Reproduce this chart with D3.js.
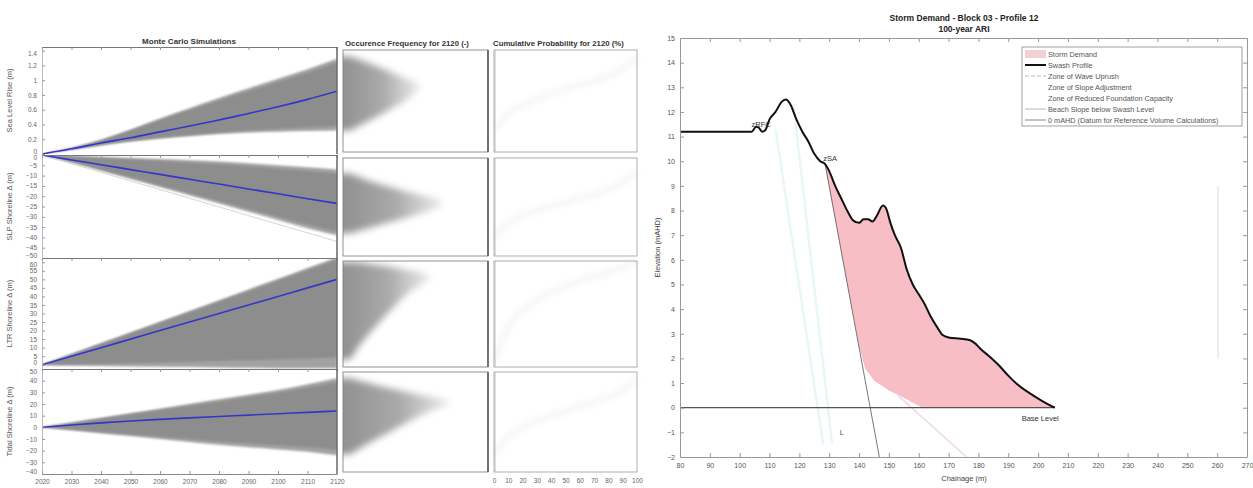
<!DOCTYPE html>
<html>
<head>
<meta charset="utf-8">
<script src="https://cdn.jsdelivr.net/npm/d3@7"></script>
<style>
body { margin: 0; background: #fff; }
text { font-family: Arial, "Liberation Sans", sans-serif; }
</style>
</head>
<body>
<script>
/*
    Values. Left figure: Monte Carlo fans
    (upper / lower envelope and median) for each decade, plus the
    2120 occurrence and cumulative curves. Right figure: beach profile
    and eroded profile for the storm demand.
*/
var W = 1253;
var H = 488;

var years = [2020, 2030, 2040, 2050, 2060, 2070, 2080, 2090, 2100, 2110, 2120];
var yearTicks = [2020, 2030, 2040, 2050, 2060, 2070, 2080, 2090, 2100, 2110, 2120];
var cumTicks = [0, 10, 20, 30, 40, 50, 60, 70, 80, 90, 100];

var slrMedian = [0, 0.07, 0.15, 0.22, 0.30, 0.38, 0.46, 0.55, 0.64, 0.74, 0.85];
var slrUpper  = [0, 0.08, 0.19, 0.33, 0.48, 0.62, 0.76, 0.89, 1.02, 1.15, 1.29];
var slrLower  = [0, 0.06, 0.12, 0.17, 0.21, 0.24, 0.27, 0.29, 0.30, 0.31, 0.32];

var slpMedian = [0, -2.4, -4.7, -7.1, -9.4, -11.8, -14.1, -16.5, -18.8, -21.2, -23.5];
var slpUpper  = [0, -0.5, -1.0, -1.5, -2.0, -2.6, -3.2, -4.0, -5.0, -6.0, -7.0];
var slpLower  = [0, -3.5, -7.5, -11.5, -15.5, -19.5, -23.5, -27.5, -31.5, -35.5, -39.0];
var slpMin    = [0, -4.2, -8.4, -12.6, -16.8, -21.0, -25.2, -29.4, -33.6, -37.8, -42.0];

var ltrMedian = [0, 5.0, 10.0, 15.0, 20.0, 25.0, 30.0, 35.0, 40.0, 45.0, 50.0];
var ltrUpper  = [0, 6.3, 12.6, 18.9, 25.2, 31.5, 37.8, 44.1, 50.4, 56.7, 63.0];
var ltrLower  = [0, -0.5, -0.8, -1.0, -1.2, -1.4, -1.6, -1.8, -2.0, -2.0, -2.0];

var tidMedian = [0, 2.0, 3.8, 5.4, 6.8, 8.1, 9.3, 10.5, 11.7, 12.8, 14.0];
var tidUpper  = [0, 4, 8, 12, 16, 20, 24, 28, 32, 37, 42];
var tidLower  = [0, -2.5, -5, -7.5, -10, -12.5, -15, -17, -19, -21, -24];

var slrTicks = [0, 0.2, 0.4, 0.6, 0.8, 1, 1.2, 1.4];
var slpTicks = [0, -5, -10, -15, -20, -25, -30, -35, -40, -45, -50];
var ltrTicks = [0, 5, 10, 15, 20, 25, 30, 35, 40, 45, 50, 55, 60];
var tidTicks = [-40, -30, -20, -10, 0, 10, 20, 30, 40, 50];

// occurrence frequency in 2120 (value, relative frequency)
var slrOccValue = [0.32, 0.45, 0.6, 0.75, 0.93, 1.05, 1.2, 1.32];
var slrOccFreq  = [0.05, 0.18, 0.32, 0.45, 0.53, 0.4, 0.22, 0.05];
var slpOccValue = [-38, -33, -28, -23, -18, -13, -9];
var slpOccFreq  = [0.05, 0.3, 0.55, 0.69, 0.45, 0.2, 0.05];
var ltrOccValue = [3, 12, 22, 32, 42, 52, 57, 60];
var ltrOccFreq  = [0.05, 0.12, 0.22, 0.33, 0.45, 0.6, 0.35, 0.1];
var tidOccValue = [-23, -12, -2, 8, 15, 21, 30, 37, 42];
var tidOccFreq  = [0.05, 0.2, 0.35, 0.5, 0.62, 0.74, 0.45, 0.2, 0.05];

// cumulative probability in 2120 (percent, value)
var cumPct   = [0, 10, 25, 50, 75, 90, 100];
var slrCum   = [0.32, 0.55, 0.7, 0.88, 1.02, 1.15, 1.32];
var slpCum   = [-40, -33, -28, -23, -18, -13, -8];
var ltrCum   = [2, 22, 35, 46, 53, 57, 61];
var tidCum   = [-24, -8, 3, 14, 24, 32, 42];

var rowLabels = ["Sea Level Rise (m)", "SLP Shoreline \u0394 (m)", "LTR Shoreline \u0394 (m)", "Tidal Shoreline \u0394 (m)"];

// right figure: beach profile
var profChainage = [80, 104, 105.5, 106.5, 107.5, 108.5, 110, 112, 114, 115.5, 117, 119, 121, 123, 125, 127, 128.5,
    130, 132, 134, 136, 138, 140, 141.5, 143, 144.5, 146, 148, 149, 150.5, 152, 154, 156, 158, 160, 162, 164, 166,
    168, 170, 174, 177, 179, 181, 184, 187, 190, 193, 197, 201, 205.6];
var profElevation = [11.2, 11.2, 11.4, 11.35, 11.2, 11.25, 11.7, 12.0, 12.4, 12.5, 12.3, 11.7, 11.2, 10.8, 10.3, 10.0, 9.9,
    9.6, 9.0, 8.5, 8.0, 7.6, 7.5, 7.65, 7.65, 7.55, 7.8, 8.2, 8.1, 7.5, 7.0, 6.5, 5.6, 5.0, 4.6, 4.2, 3.7, 3.3,
    2.95, 2.85, 2.8, 2.75, 2.6, 2.35, 2.05, 1.7, 1.3, 0.95, 0.6, 0.3, 0];
var erodedChainage  = [128.5, 133, 137.5, 140, 142, 145, 150, 155, 158, 161, 205.6];
var erodedElevation = [9.9, 7.0, 4.1, 2.5, 1.6, 1.1, 0.7, 0.4, 0.2, 0.02, 0];

var slopeLineChainage  = [128.6, 146.8];
var slopeLineElevation = [9.9, -2];
var belowSwashChainage  = [153, 176];
var belowSwashElevation = [0.5, -2];
var uprushChainage1 = [112, 128], uprushElevation1 = [11.3, -1.5];
var uprushChainage2 = [118, 131], uprushElevation2 = [12.3, -1.5];
var rockwallChainage = [260.3, 260.3], rockwallElevation = [9, 2];
var datumChainage = [80, 205.6], datumElevation = [0, 0];

var chainTicks = [80, 90, 100, 110, 120, 130, 140, 150, 160, 170, 180, 190, 200, 210, 220, 230, 240, 250, 260, 270];
var elevTicks = [-2, -1, 0, 1, 2, 3, 4, 5, 6, 7, 8, 9, 10, 11, 12, 13, 14, 15];

var legendLabels = ["Storm Demand", "Swash Profile", "Zone of Wave Uprush", "Zone of Slope Adjustment",
    "Zone of Reduced Foundation Capacity", "Beach Slope below Swash Level", "0 mAHD (Datum for Reference Volume Calculations)"];


var svg = d3.select("body")
    .append("svg")
    .attr("width", W)
    .attr("height", H)
    .style("background-color", "#fff");

var defs = svg.append("defs");
defs.append("filter").attr("id", "soft")
    .attr("x", "-5%").attr("y", "-5%").attr("width", "110%").attr("height", "110%")
    .append("feGaussianBlur").attr("stdDeviation", 1.1);
defs.append("filter").attr("id", "blurOcc")
    .attr("x", "-20%").attr("y", "-20%").attr("width", "140%").attr("height", "140%")
    .append("feGaussianBlur").attr("stdDeviation", 3.5);
defs.append("filter").attr("id", "blurCum")
    .attr("x", "-20%").attr("y", "-20%").attr("width", "140%").attr("height", "140%")
    .append("feGaussianBlur").attr("stdDeviation", 3);
var grad = defs.append("linearGradient").attr("id", "occFade")
    .attr("x1", 0).attr("x2", 1).attr("y1", 0).attr("y2", 0);
grad.append("stop").attr("offset", "0%").attr("stop-color", "#8e8e8e");
grad.append("stop").attr("offset", "55%").attr("stop-color", "#aaaaaa");
grad.append("stop").attr("offset", "100%").attr("stop-color", "#ececec");


/*
    LEFT FIGURE - four rows of Monte Carlo / occurrence / cumulative panels
*/
var mcX = d3.scaleLinear().domain([2020, 2120]).range([42, 337]);
var occX = d3.scaleLinear().domain([0, 1]).range([343, 488]);
var cumX = d3.scaleLinear().domain([0, 100]).range([494, 637]);

var rows = [
    {label: rowLabels[0], top: 47, bottom: 154, domain: [0, 1.45], ticks: slrTicks,
        median: slrMedian, upper: slrUpper, lower: slrLower, occV: slrOccValue, occF: slrOccFreq, cum: slrCum},
    {label: rowLabels[1], top: 155, bottom: 258, domain: [-50, 0], ticks: slpTicks,
        median: slpMedian, upper: slpUpper, lower: slpLower, occV: slpOccValue, occF: slpOccFreq, cum: slpCum, min: slpMin},
    {label: rowLabels[2], top: 258, bottom: 369, domain: [-2.5, 62.5], ticks: ltrTicks,
        median: ltrMedian, upper: ltrUpper, lower: ltrLower, occV: ltrOccValue, occF: ltrOccFreq, cum: ltrCum},
    {label: rowLabels[3], top: 369, bottom: 474, domain: [-40, 50], ticks: tidTicks,
        median: tidMedian, upper: tidUpper, lower: tidLower, occV: tidOccValue, occF: tidOccFreq, cum: tidCum}
];

rows.forEach(function(r, k){
    var y = d3.scaleLinear().domain(r.domain).range([r.bottom, r.top]);

    var clipId = "clip" + k;
    defs.append("clipPath").attr("id", clipId)
        .append("rect")
        .attr("x", mcX(2020)).attr("y", r.top)
        .attr("width", mcX(2120) - mcX(2020)).attr("height", r.bottom - r.top);

    var g = svg.append("g").attr("clip-path", "url(#" + clipId + ")");

    // fan of simulations
    var fan = d3.area()
        .x(function(d, i){ return mcX(years[i]); })
        .y0(function(d, i){ return y(r.lower[i]); })
        .y1(function(d, i){ return y(r.upper[i]); })
        .curve(d3.curveMonotoneX);

    g.append("path")
        .datum(years)
        .attr("d", fan)
        .style("fill", "#a2a2a2")
        .attr("filter", "url(#soft)");

    // darker core of the fan
    var core = d3.area()
        .x(function(d, i){ return mcX(years[i]); })
        .y0(function(d, i){ return y(r.lower[i] + (r.median[i] - r.lower[i]) * 0.12); })
        .y1(function(d, i){ return y(r.upper[i] - (r.upper[i] - r.median[i]) * 0.12); })
        .curve(d3.curveMonotoneX);

    g.append("path")
        .datum(years)
        .attr("d", core)
        .style("fill", "#8d8d8d")
        .attr("filter", "url(#soft)");

    if(r.min){
        g.append("path")
            .datum(r.min)
            .attr("d", d3.line()
                .x(function(d, i){ return mcX(years[i]); })
                .y(function(d){ return y(d); }))
            .style("fill", "none")
            .style("stroke", "#d6d6d6")
            .style("stroke-width", 1);
    }

    g.append("path")
        .datum(r.median)
        .attr("d", d3.line()
            .x(function(d, i){ return mcX(years[i]); })
            .y(function(d){ return y(d); })
            .curve(d3.curveMonotoneX))
        .style("fill", "none")
        .style("stroke", "#3535c8")
        .style("stroke-width", 1.6);

    // left axis of the MC panel; end labels nudged inward so rows do not collide
    var lo = r.ticks[0] < r.ticks[r.ticks.length - 1] ? r.ticks[0] : r.ticks[r.ticks.length - 1];
    var hi = r.ticks[0] < r.ticks[r.ticks.length - 1] ? r.ticks[r.ticks.length - 1] : r.ticks[0];
    svg.append("g")
        .attr("transform", "translate(" + mcX(2020) + ",0)")
        .call(d3.axisLeft(y).tickValues(r.ticks).tickFormat(d3.format("~g")).tickSizeInner(-3).tickSizeOuter(0).tickPadding(5))
        .call(function(a){
            a.select(".domain").style("stroke", "#bbb");
            a.selectAll(".tick line").style("stroke", "#999");
            a.selectAll("text").style("font-size", "6.5px").style("fill", "#666")
                .attr("y", function(d){
                    if(d == lo && y(d) > r.bottom - 6) return -2.5;
                    if(d == hi && y(d) < r.top + 6) return 2.5;
                    return 0;
                });
        });

    // top ticks of the MC panel
    svg.append("g")
        .attr("transform", "translate(0," + r.top + ")")
        .call(d3.axisTop(mcX).tickValues(yearTicks).tickFormat("").tickSizeInner(-3).tickSizeOuter(0))
        .call(function(a){
            a.select(".domain").style("stroke", "#777");
            a.selectAll(".tick line").style("stroke", "#999");
        });

    svg.append("line")
        .attr("x1", mcX(2120)).attr("x2", mcX(2120))
        .attr("y1", r.top).attr("y2", r.bottom)
        .style("stroke", "#666").style("stroke-width", 1.5);

    svg.append("text")
        .attr("transform", "translate(12," + ((r.top + r.bottom) / 2) + ") rotate(-90)")
        .attr("text-anchor", "middle")
        .style("font-size", "7.5px")
        .style("fill", "#555")
        .text(r.label);

    // occurrence frequency panel
    var occClip = "occclip" + k;
    defs.append("clipPath").attr("id", occClip)
        .append("rect")
        .attr("x", occX(0)).attr("y", r.top + 3)
        .attr("width", occX(1) - occX(0)).attr("height", r.bottom - r.top - 5);

    svg.append("g").attr("clip-path", "url(#" + occClip + ")")
        .append("path")
        .datum(r.occV)
        .attr("d", d3.area()
            .y(function(d){ return y(d); })
            .x0(occX(0) - 6)
            .x1(function(d, i){ return occX(r.occF[i]); })
            .curve(d3.curveMonotoneY))
        .style("fill", "url(#occFade)")
        .attr("filter", "url(#blurOcc)");

    svg.append("rect")
        .attr("x", occX(0)).attr("y", r.top + 3)
        .attr("width", occX(1) - occX(0)).attr("height", r.bottom - r.top - 5)
        .style("fill", "none").style("stroke", "#777").style("stroke-width", 0.8);
    svg.append("line")
        .attr("x1", occX(1)).attr("x2", occX(1)).attr("y1", r.top + 3).attr("y2", r.bottom - 2)
        .style("stroke", "#555").style("stroke-width", 1.5);

    // cumulative probability panel (very faint curve)
    svg.append("path")
        .datum(r.cum)
        .attr("d", d3.line()
            .x(function(d, i){ return cumX(cumPct[i]); })
            .y(function(d){ return y(d); })
            .curve(d3.curveMonotoneX))
        .style("fill", "none")
        .style("stroke", "#f1f1f1")
        .style("stroke-width", 4)
        .attr("filter", "url(#blurCum)");

    svg.append("rect")
        .attr("x", cumX(0)).attr("y", r.top + 3)
        .attr("width", cumX(100) - cumX(0)).attr("height", r.bottom - r.top - 5)
        .style("fill", "none").style("stroke", "#999").style("stroke-width", 0.8);
    svg.append("line")
        .attr("x1", cumX(0) + 1).attr("x2", cumX(0) + 1).attr("y1", r.top + 3).attr("y2", r.bottom - 2)
        .style("stroke", "#bbb").style("stroke-width", 1);
});

// bottom axes of the left figure
svg.append("g")
    .attr("transform", "translate(0,474)")
    .call(d3.axisBottom(mcX).tickValues(yearTicks).tickFormat(d3.format("d")).tickSizeInner(-3).tickSizeOuter(0).tickPadding(5))
    .call(function(a){
        a.select(".domain").style("stroke", "#888");
        a.selectAll(".tick line").style("stroke", "#999");
        a.selectAll("text").style("font-size", "6.5px").style("fill", "#666");
    });

svg.append("g")
    .attr("transform", "translate(0,472)")
    .call(d3.axisBottom(cumX).tickValues(cumTicks).tickSize(0).tickPadding(6))
    .call(function(a){
        a.select(".domain").remove();
        a.selectAll("text").style("font-size", "6.5px").style("fill", "#666");
    });

svg.append("text")
    .attr("x", 189).attr("y", 44)
    .attr("text-anchor", "middle")
    .style("font-size", "8px").style("font-weight", "bold").style("fill", "#333")
    .text("Monte Carlo Simulations");

svg.append("text")
    .attr("x", 345).attr("y", 46)
    .style("font-size", "7.8px").style("font-weight", "bold").style("fill", "#333")
    .text("Occurence Frequency for 2120 (-)");

svg.append("text")
    .attr("x", 493).attr("y", 46)
    .style("font-size", "7.8px").style("font-weight", "bold").style("fill", "#333")
    .text("Cumulative Probability for 2120 (%)");


/*
    RIGHT FIGURE - storm demand on the beach profile
*/
var xS = d3.scaleLinear().domain([80, 270]).range([680, 1247]);
var yS = d3.scaleLinear().domain([-2, 15]).range([457, 38]);

function pts(cx, ey){
    return cx.map(function(c, i){ return [c, ey[i]]; });
}
var line = d3.line()
    .x(function(d){ return xS(d[0]); })
    .y(function(d){ return yS(d[1]); });

// faint zone lines
[pts(uprushChainage1, uprushElevation1), pts(uprushChainage2, uprushElevation2)].forEach(function(p){
    svg.append("path")
        .datum(p)
        .attr("d", line)
        .style("fill", "none")
        .style("stroke", "#eaf6f6")
        .style("stroke-width", 2.5);
});

svg.append("path")
    .datum(pts(rockwallChainage, rockwallElevation))
    .attr("d", line)
    .style("fill", "none")
    .style("stroke", "#dcdcdc")
    .style("stroke-width", 1);

// storm demand polygon
var demand = pts(profChainage, profElevation).filter(function(d){ return d[0] >= 128.5; })
    .concat(pts(erodedChainage, erodedElevation).reverse());

svg.append("path")
    .datum(demand)
    .attr("d", line)
    .style("fill", "#f8bec5")
    .style("stroke", "none");

svg.append("path")
    .datum(pts(belowSwashChainage, belowSwashElevation))
    .attr("d", line)
    .style("fill", "none")
    .style("stroke", "#eed9e8")
    .style("stroke-width", 1.5);

svg.append("path")
    .datum(pts(slopeLineChainage, slopeLineElevation))
    .attr("d", line)
    .style("fill", "none")
    .style("stroke", "#555")
    .style("stroke-width", 0.8);

svg.append("path")
    .datum(pts(datumChainage, datumElevation))
    .attr("d", line)
    .style("fill", "none")
    .style("stroke", "#555")
    .style("stroke-width", 1.2);

svg.append("path")
    .datum(pts(profChainage, profElevation))
    .attr("d", d3.line()
        .x(function(d){ return xS(d[0]); })
        .y(function(d){ return yS(d[1]); })
        .curve(d3.curveMonotoneX))
    .style("fill", "none")
    .style("stroke", "#111")
    .style("stroke-width", 2);

svg.append("text")
    .attr("x", xS(104)).attr("y", yS(11.4))
    .style("font-size", "7.5px").style("fill", "#333")
    .text("zRFC");
svg.append("text")
    .attr("x", xS(128)).attr("y", yS(10.0))
    .style("font-size", "7.5px").style("fill", "#333")
    .text("zSA");
svg.append("text")
    .attr("x", xS(133.5)).attr("y", yS(-1.1))
    .style("font-size", "7.5px").style("fill", "#555")
    .text("L");
svg.append("text")
    .attr("x", xS(200.7)).attr("y", yS(-0.55))
    .attr("text-anchor", "middle")
    .style("font-size", "7.5px").style("fill", "#333")
    .text("Base Level");

// axes with inward ticks, box style
function styleAxis(a){
    a.select(".domain").style("stroke", "#999");
    a.selectAll(".tick line").style("stroke", "#999");
    a.selectAll("text").style("font-size", "7px").style("fill", "#555");
}
svg.append("g")
    .attr("transform", "translate(0," + yS(-2) + ")")
    .call(d3.axisBottom(xS).tickValues(chainTicks).tickSizeInner(-4).tickSizeOuter(0).tickPadding(6))
    .call(styleAxis);
svg.append("g")
    .attr("transform", "translate(0," + yS(15) + ")")
    .call(d3.axisTop(xS).tickValues(chainTicks).tickFormat("").tickSizeInner(-4).tickSizeOuter(0))
    .call(styleAxis);
svg.append("g")
    .attr("transform", "translate(" + xS(80) + ",0)")
    .call(d3.axisLeft(yS).tickValues(elevTicks).tickSizeInner(-4).tickSizeOuter(0).tickPadding(5))
    .call(styleAxis);
svg.append("g")
    .attr("transform", "translate(" + xS(270) + ",0)")
    .call(d3.axisRight(yS).tickValues(elevTicks).tickFormat("").tickSizeInner(-4).tickSizeOuter(0))
    .call(styleAxis);

svg.append("text")
    .attr("x", 964).attr("y", 481)
    .attr("text-anchor", "middle")
    .style("font-size", "7.5px").style("fill", "#444")
    .text("Chainage (m)");
svg.append("text")
    .attr("transform", "translate(660," + yS(6.5) + ") rotate(-90)")
    .attr("text-anchor", "middle")
    .style("font-size", "7.5px").style("fill", "#444")
    .text("Elevation (mAHD)");

svg.append("text")
    .attr("x", 964).attr("y", 21)
    .attr("text-anchor", "middle")
    .style("font-size", "8.5px").style("font-weight", "bold").style("fill", "#222")
    .text("Storm Demand - Block 03 - Profile 12");
svg.append("text")
    .attr("x", 964).attr("y", 32)
    .attr("text-anchor", "middle")
    .style("font-size", "8.5px").style("font-weight", "bold").style("fill", "#222")
    .text("100-year ARI");

// legend
var lg = svg.append("g").attr("transform", "translate(1022,47)");
lg.append("rect")
    .attr("width", 220).attr("height", 79)
    .style("fill", "#fff").style("stroke", "#888").style("stroke-width", 0.8);

var legendRows = lg.selectAll("g.item")
    .data(legendLabels)
    .enter()
    .append("g")
    .attr("class", "item")
    .attr("transform", function(d, i){ return "translate(0," + (7 + i * 11) + ")"; });

legendRows.append("text")
    .attr("x", 26).attr("y", 3)
    .style("font-size", "7.3px").style("fill", "#555")
    .text(function(d){ return d; });

legendRows.each(function(d, i){
    var s = d3.select(this);
    if(i == 0){
        s.append("rect").attr("x", 3).attr("y", -4).attr("width", 21).attr("height", 8)
            .style("fill", "#f3d0d4");
    }else if(i == 1){
        s.append("line").attr("x1", 3).attr("x2", 24).attr("y1", 0).attr("y2", 0)
            .style("stroke", "#111").style("stroke-width", 2);
    }else if(i == 2){
        s.append("line").attr("x1", 3).attr("x2", 24).attr("y1", 0).attr("y2", 0)
            .style("stroke", "#aaa").style("stroke-width", 0.8).style("stroke-dasharray", "4,2");
    }else if(i == 5){
        s.append("line").attr("x1", 3).attr("x2", 24).attr("y1", 0).attr("y2", 0)
            .style("stroke", "#b9b9b9").style("stroke-width", 1);
    }else if(i == 6){
        s.append("line").attr("x1", 3).attr("x2", 24).attr("y1", 0).attr("y2", 0)
            .style("stroke", "#888").style("stroke-width", 1);
    }
});
</script>
</body>
</html>
